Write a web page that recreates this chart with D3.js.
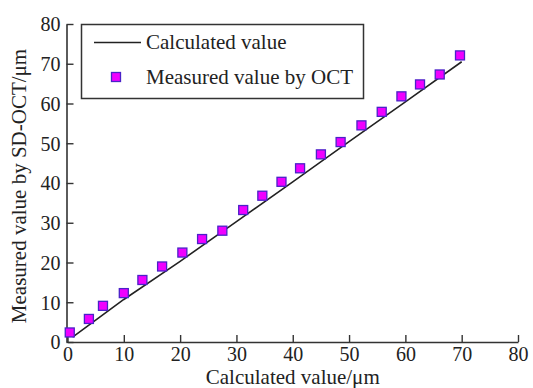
<!DOCTYPE html>
<html>
<head>
<meta charset="utf-8">
<script src="https://cdn.jsdelivr.net/npm/d3@7/dist/d3.min.js"></script>
<style>
  html, body { margin: 0; padding: 0; background: #fff; }
  svg text { font-family: "Liberation Serif", "Times New Roman", serif; fill: #222; }
</style>
</head>
<body>
<svg id="chart" width="533" height="388"></svg>
<script>
// Calculated thickness (µm) on the x axis
const calcX = [0.4, 3.8, 6.3, 10.0, 13.3, 16.8, 20.4, 23.9, 27.5, 31.2, 34.6,
               38.0, 41.3, 45.0, 48.5, 52.2, 55.8, 59.3, 62.6, 66.1, 69.7];
// Thickness measured by SD-OCT (µm)
const measuredY = [2.4, 5.8, 9.1, 12.3, 15.6, 19.0, 22.5, 25.9, 28.0, 33.2, 36.8,
                   40.3, 43.7, 47.2, 50.3, 54.5, 57.9, 61.8, 64.8, 67.3, 72.1];
// Calculated-value reference line
const lineX = [0.9, 10.0, 20.0, 30.0, 40.0, 50.0, 60.0, 70.0];
const lineY = [1.2, 10.7, 20.3, 30.3, 40.3, 50.4, 60.4, 70.5];

const xTicks = [0, 10, 20, 30, 40, 50, 60, 70, 80];
const yTicks = [0, 10, 20, 30, 40, 50, 60, 70, 80];

const legendLabels = ["Calculated value", "Measured value by OCT"];
const xTitle = "Calculated value/\u03bcm";
const yTitle = "Measured value by SD-OCT/\u03bcm";

const svg = d3.select("#chart");
const axisColor = "#333";
const fontSize = 21;
const tickFontSize = 20;

const x = d3.scaleLinear().domain([0, 80]).range([67.5, 518]);
const y = d3.scaleLinear().domain([0, 80]).range([342, 24]);

// Axes with inward ticks
const xAxis = d3.axisBottom(x).tickValues(xTicks).tickSizeInner(-7).tickSizeOuter(0).tickPadding(5);
const yAxis = d3.axisLeft(y).tickValues(yTicks).tickSizeInner(-7).tickSizeOuter(0).tickPadding(6);

const gx = svg.append("g").attr("transform", `translate(0,${y(0)})`).call(xAxis);
const gy = svg.append("g").attr("transform", `translate(${x(0) - 1},0)`).call(yAxis);

[gx, gy].forEach(g => {
  g.select(".domain").attr("stroke", axisColor).attr("stroke-width", 1.6);
  g.selectAll(".tick line").attr("stroke", axisColor).attr("stroke-width", 1.4);
  g.selectAll(".tick text")
    .attr("font-family", "Liberation Serif, serif")
    .attr("font-size", tickFontSize)
    .attr("fill", "#222");
});
gx.selectAll(".tick text").attr("y", 5).attr("dy", "0.68em");
gy.selectAll(".tick text").attr("dy", "0.34em");

// Axis titles
svg.append("text")
  .attr("x", (x(0) + x(80)) / 2)
  .attr("y", 384)
  .attr("text-anchor", "middle")
  .attr("font-size", fontSize)
  .text(xTitle);

svg.append("text")
  .attr("transform", `translate(26,${(y(0) + y(80)) / 2 + 3}) rotate(-90)`)
  .attr("text-anchor", "middle")
  .attr("font-size", fontSize)
  .text(yTitle);

// Calculated-value line
const line = d3.line().x((d, i) => x(d)).y((d, i) => y(lineY[i]));
svg.append("path")
  .datum(lineX)
  .attr("d", line)
  .attr("fill", "none")
  .attr("stroke", "#222")
  .attr("stroke-width", 1.6);

// Measured points
const markerSize = 9;
const markerFill = "#f000ff";
const markerStroke = "#4a22c8";
svg.append("g").selectAll("rect")
  .data(calcX)
  .join("rect")
  .attr("x", d => x(d) - markerSize / 2)
  .attr("y", (d, i) => y(measuredY[i]) - markerSize / 2)
  .attr("width", markerSize)
  .attr("height", markerSize)
  .attr("fill", markerFill)
  .attr("stroke", markerStroke)
  .attr("stroke-width", 1.3);

// Legend
const legend = svg.append("g");
legend.append("rect")
  .attr("x", 81.5).attr("y", 24.5)
  .attr("width", 282).attr("height", 74)
  .attr("fill", "#fff")
  .attr("stroke", axisColor)
  .attr("stroke-width", 1.5);
legend.append("line")
  .attr("x1", 94).attr("x2", 141)
  .attr("y1", 42.5).attr("y2", 42.5)
  .attr("stroke", "#222").attr("stroke-width", 1.6);
legend.append("rect")
  .attr("x", 116 - markerSize / 2).attr("y", 77 - markerSize / 2)
  .attr("width", markerSize).attr("height", markerSize)
  .attr("fill", markerFill).attr("stroke", markerStroke).attr("stroke-width", 1.3);
legend.selectAll("text.lbl")
  .data(legendLabels)
  .join("text")
  .attr("class", "lbl")
  .attr("x", 146)
  .attr("y", (d, i) => i === 0 ? 49 : 84)
  .attr("font-size", fontSize)
  .text(d => d);
</script>
</body>
</html>
